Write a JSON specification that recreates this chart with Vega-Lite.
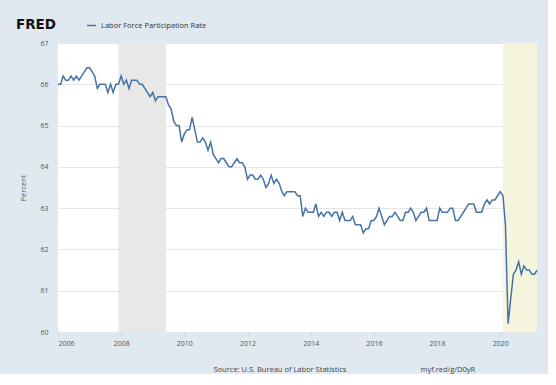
{
  "$schema": "https://vega.github.io/schema/vega-lite/v6.json",
  "autosize": {"type": "none"},
  "width": 479,
  "height": 289,
  "padding": {"left": 58, "top": 43, "right": 11, "bottom": 42},
  "background": "#e1e9f0",
  "config": {
    "view": {"fill": "white", "stroke": null},
    "font": "Open Sans"
  },
  "layer": [
    {
      "data": {"values": [
        {"start": "2007-12-01", "end": "2009-06-01", "kind": "recession"},
        {"start": "2020-02-01", "end": "2021-03-01", "kind": "current"}
      ]},
      "mark": {"type": "rect"},
      "encoding": {
        "x": {"field": "start", "type": "temporal", "scale": {"domain": ["2006-01-01", "2021-03-01"]}},
        "x2": {"field": "end"},
        "fill": {"field": "kind", "type": "nominal", "scale": {"domain": ["recession", "current"], "range": ["#e8e8e8", "#f5f4dc"]}, "legend": null}
      }
    },
    {
      "data": {"values": [
        {"date":"2006-01-01","value":66.0},{"date":"2006-02-01","value":66.0},{"date":"2006-03-01","value":66.2},{"date":"2006-04-01","value":66.1},{"date":"2006-05-01","value":66.1},{"date":"2006-06-01","value":66.2},{"date":"2006-07-01","value":66.1},{"date":"2006-08-01","value":66.2},{"date":"2006-09-01","value":66.1},{"date":"2006-10-01","value":66.2},{"date":"2006-11-01","value":66.3},{"date":"2006-12-01","value":66.4},
        {"date":"2007-01-01","value":66.4},{"date":"2007-02-01","value":66.3},{"date":"2007-03-01","value":66.2},{"date":"2007-04-01","value":65.9},{"date":"2007-05-01","value":66.0},{"date":"2007-06-01","value":66.0},{"date":"2007-07-01","value":66.0},{"date":"2007-08-01","value":65.8},{"date":"2007-09-01","value":66.0},{"date":"2007-10-01","value":65.8},{"date":"2007-11-01","value":66.0},{"date":"2007-12-01","value":66.0},
        {"date":"2008-01-01","value":66.2},{"date":"2008-02-01","value":66.0},{"date":"2008-03-01","value":66.1},{"date":"2008-04-01","value":65.9},{"date":"2008-05-01","value":66.1},{"date":"2008-06-01","value":66.1},{"date":"2008-07-01","value":66.1},{"date":"2008-08-01","value":66.0},{"date":"2008-09-01","value":66.0},{"date":"2008-10-01","value":65.9},{"date":"2008-11-01","value":65.8},{"date":"2008-12-01","value":65.7},
        {"date":"2009-01-01","value":65.8},{"date":"2009-02-01","value":65.6},{"date":"2009-03-01","value":65.7},{"date":"2009-04-01","value":65.7},{"date":"2009-05-01","value":65.7},{"date":"2009-06-01","value":65.7},{"date":"2009-07-01","value":65.5},{"date":"2009-08-01","value":65.4},{"date":"2009-09-01","value":65.1},{"date":"2009-10-01","value":65.0},{"date":"2009-11-01","value":65.0},{"date":"2009-12-01","value":64.6},
        {"date":"2010-01-01","value":64.8},{"date":"2010-02-01","value":64.9},{"date":"2010-03-01","value":64.9},{"date":"2010-04-01","value":65.2},{"date":"2010-05-01","value":64.9},{"date":"2010-06-01","value":64.6},{"date":"2010-07-01","value":64.6},{"date":"2010-08-01","value":64.7},{"date":"2010-09-01","value":64.6},{"date":"2010-10-01","value":64.4},{"date":"2010-11-01","value":64.6},{"date":"2010-12-01","value":64.3},
        {"date":"2011-01-01","value":64.2},{"date":"2011-02-01","value":64.1},{"date":"2011-03-01","value":64.2},{"date":"2011-04-01","value":64.2},{"date":"2011-05-01","value":64.1},{"date":"2011-06-01","value":64.0},{"date":"2011-07-01","value":64.0},{"date":"2011-08-01","value":64.1},{"date":"2011-09-01","value":64.2},{"date":"2011-10-01","value":64.1},{"date":"2011-11-01","value":64.1},{"date":"2011-12-01","value":64.0},
        {"date":"2012-01-01","value":63.7},{"date":"2012-02-01","value":63.8},{"date":"2012-03-01","value":63.8},{"date":"2012-04-01","value":63.7},{"date":"2012-05-01","value":63.7},{"date":"2012-06-01","value":63.8},{"date":"2012-07-01","value":63.7},{"date":"2012-08-01","value":63.5},{"date":"2012-09-01","value":63.6},{"date":"2012-10-01","value":63.8},{"date":"2012-11-01","value":63.6},{"date":"2012-12-01","value":63.7},
        {"date":"2013-01-01","value":63.6},{"date":"2013-02-01","value":63.4},{"date":"2013-03-01","value":63.3},{"date":"2013-04-01","value":63.4},{"date":"2013-05-01","value":63.4},{"date":"2013-06-01","value":63.4},{"date":"2013-07-01","value":63.4},{"date":"2013-08-01","value":63.3},{"date":"2013-09-01","value":63.3},{"date":"2013-10-01","value":62.8},{"date":"2013-11-01","value":63.0},{"date":"2013-12-01","value":62.9},
        {"date":"2014-01-01","value":62.9},{"date":"2014-02-01","value":62.9},{"date":"2014-03-01","value":63.1},{"date":"2014-04-01","value":62.8},{"date":"2014-05-01","value":62.9},{"date":"2014-06-01","value":62.8},{"date":"2014-07-01","value":62.9},{"date":"2014-08-01","value":62.9},{"date":"2014-09-01","value":62.8},{"date":"2014-10-01","value":62.9},{"date":"2014-11-01","value":62.9},{"date":"2014-12-01","value":62.7},
        {"date":"2015-01-01","value":62.9},{"date":"2015-02-01","value":62.7},{"date":"2015-03-01","value":62.7},{"date":"2015-04-01","value":62.7},{"date":"2015-05-01","value":62.8},{"date":"2015-06-01","value":62.6},{"date":"2015-07-01","value":62.6},{"date":"2015-08-01","value":62.6},{"date":"2015-09-01","value":62.4},{"date":"2015-10-01","value":62.5},{"date":"2015-11-01","value":62.5},{"date":"2015-12-01","value":62.7},
        {"date":"2016-01-01","value":62.7},{"date":"2016-02-01","value":62.8},{"date":"2016-03-01","value":63.0},{"date":"2016-04-01","value":62.8},{"date":"2016-05-01","value":62.6},{"date":"2016-06-01","value":62.7},{"date":"2016-07-01","value":62.8},{"date":"2016-08-01","value":62.8},{"date":"2016-09-01","value":62.9},{"date":"2016-10-01","value":62.8},{"date":"2016-11-01","value":62.7},{"date":"2016-12-01","value":62.7},
        {"date":"2017-01-01","value":62.9},{"date":"2017-02-01","value":62.9},{"date":"2017-03-01","value":63.0},{"date":"2017-04-01","value":62.9},{"date":"2017-05-01","value":62.7},{"date":"2017-06-01","value":62.8},{"date":"2017-07-01","value":62.9},{"date":"2017-08-01","value":62.9},{"date":"2017-09-01","value":63.0},{"date":"2017-10-01","value":62.7},{"date":"2017-11-01","value":62.7},{"date":"2017-12-01","value":62.7},
        {"date":"2018-01-01","value":62.7},{"date":"2018-02-01","value":63.0},{"date":"2018-03-01","value":62.9},{"date":"2018-04-01","value":62.9},{"date":"2018-05-01","value":62.9},{"date":"2018-06-01","value":63.0},{"date":"2018-07-01","value":63.0},{"date":"2018-08-01","value":62.7},{"date":"2018-09-01","value":62.7},{"date":"2018-10-01","value":62.8},{"date":"2018-11-01","value":62.9},{"date":"2018-12-01","value":63.0},
        {"date":"2019-01-01","value":63.1},{"date":"2019-02-01","value":63.1},{"date":"2019-03-01","value":63.1},{"date":"2019-04-01","value":62.9},{"date":"2019-05-01","value":62.9},{"date":"2019-06-01","value":62.9},{"date":"2019-07-01","value":63.1},{"date":"2019-08-01","value":63.2},{"date":"2019-09-01","value":63.1},{"date":"2019-10-01","value":63.2},{"date":"2019-11-01","value":63.2},{"date":"2019-12-01","value":63.3},
        {"date":"2020-01-01","value":63.4},{"date":"2020-02-01","value":63.3},{"date":"2020-03-01","value":62.6},{"date":"2020-04-01","value":60.2},{"date":"2020-05-01","value":60.8},{"date":"2020-06-01","value":61.4},{"date":"2020-07-01","value":61.5},{"date":"2020-08-01","value":61.7},{"date":"2020-09-01","value":61.4},{"date":"2020-10-01","value":61.6},{"date":"2020-11-01","value":61.5},{"date":"2020-12-01","value":61.5},
        {"date":"2021-01-01","value":61.4},{"date":"2021-02-01","value":61.4},{"date":"2021-03-01","value":61.5}
      ]},
      "mark": {"type": "line", "strokeWidth": 1.5, "interpolate": "linear"},
      "encoding": {
        "x": {
          "field": "date", "type": "temporal",
          "scale": {"domain": ["2006-01-01", "2021-03-01"]},
          "axis": {
            "title": "Source: U.S. Bureau of Labor Statistics\u00a0\u00a0\u00a0\u00a0\u00a0\u00a0\u00a0\u00a0\u00a0\u00a0\u00a0\u00a0\u00a0\u00a0\u00a0\u00a0\u00a0\u00a0\u00a0\u00a0\u00a0\u00a0\u00a0\u00a0\u00a0\u00a0\u00a0\u00a0\u00a0\u00a0\u00a0\u00a0\u00a0\u00a0\u00a0\u00a0\u00a0\u00a0myf.red/g/D0yR",
            "titleX": 155, "titleY": 39, "titleAlign": "left", "titleAnchor": "start", "titleBaseline": "alphabetic",
            "titleFont": "Open Sans", "titleFontSize": 7.5, "titleFontWeight": "normal", "titleColor": "#444444",
            "format": "%Y",
            "values": ["2006-01-01","2008-01-01","2010-01-01","2012-01-01","2014-01-01","2016-01-01","2018-01-01","2020-01-01"],
            "grid": false, "domain": false,
            "ticks": true, "tickSize": 4, "tickColor": "#ccd6eb",
            "labelFont": "Open Sans", "labelFontSize": 7, "labelColor": "#555555", "labelPadding": 3
          }
        },
        "y": {
          "field": "value", "type": "quantitative",
          "scale": {"domain": [60, 67], "nice": false, "zero": false},
          "axis": {
            "title": "Percent",
            "titleFont": "Open Sans", "titleFontSize": 7.5, "titleFontWeight": "normal", "titleColor": "#555555", "titlePadding": 12,
            "values": [60, 61, 62, 63, 64, 65, 66, 67],
            "grid": true, "gridColor": "#e6e6e6", "gridWidth": 1,
            "domain": false, "ticks": false, "tickSize": 0,
            "labelFont": "Open Sans", "labelFontSize": 7, "labelColor": "#555555", "labelPadding": 10
          }
        },
        "color": {
          "datum": "Labor Force Participation Rate",
          "scale": {"range": ["#4572a7"]},
          "legend": {
            "orient": "none", "legendX": -42, "legendY": -23,
            "title": "FRED", "titleOrient": "left", "titleFont": "DejaVu Sans", "titleFontSize": 13.5, "titleFontWeight": 900, "titleColor": "#111111", "titlePadding": 29, "titleBaseline": "middle",
            "symbolType": "stroke", "symbolStrokeWidth": 1.5, "symbolSize": 80,
            "labelFont": "Open Sans", "labelFontSize": 7.5, "labelColor": "#333333", "labelOffset": 4
          }
        }
      }
    }
  ]
}
